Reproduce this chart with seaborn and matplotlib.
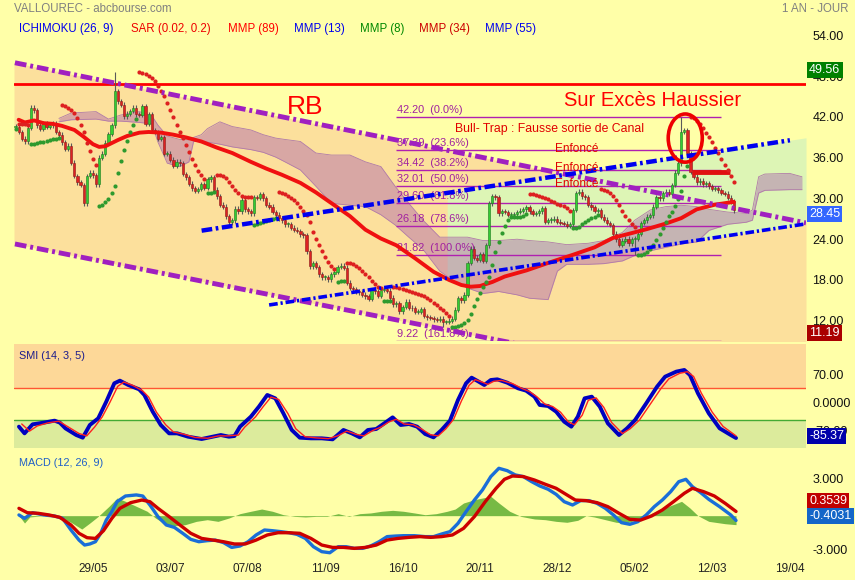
import numpy as np
import matplotlib
matplotlib.use("Agg")
import matplotlib.pyplot as plt
import seaborn as sns
from matplotlib.patches import Ellipse

# ──────────────────────────────────────────────
# DONNÉES
# ──────────────────────────────────────────────

closes = [
    40.8, 40.0, 39.0, 38.6, 40.6, 43.6, 43.2, 41.0, 40.5, 41.2,
    40.8, 41.0, 41.2, 40.0, 39.6, 38.5, 37.5, 38.0, 35.5, 33.5,
    32.6, 32.2, 29.5, 33.5, 34.0, 33.6, 32.3, 36.2, 36.8, 38.4,
    39.7, 41.0, 46.0, 44.5, 44.0, 42.3, 42.7, 43.1, 43.6, 42.6,
    42.5, 43.8, 41.2, 42.6, 40.3, 40.0, 39.0, 39.2, 36.8, 36.8,
    35.9, 35.0, 35.6, 35.4, 33.8, 33.3, 32.4, 31.7, 31.3, 31.6,
    32.3, 31.8, 33.0, 33.3, 31.5, 30.5, 29.3, 29.0, 27.6, 26.7,
    27.0, 28.7, 28.3, 30.0, 28.6, 28.3, 28.0, 30.4, 30.3, 30.8,
    30.2, 29.3, 29.0, 28.2, 27.8, 27.3, 27.0, 26.4, 26.4, 25.9,
    25.6, 25.4, 24.9, 24.8, 22.4, 20.2, 20.7, 20.1, 19.0, 18.6,
    18.6, 18.3, 19.0, 19.4, 20.1, 20.3, 20.0, 17.8, 17.0, 16.8,
    16.5, 16.4, 16.0, 15.8, 15.4, 16.7, 16.5, 15.9, 16.7, 16.8,
    16.6, 15.6, 14.6, 14.8, 13.6, 14.2, 15.0, 14.1, 14.0, 13.5,
    13.5, 13.9, 12.9, 12.7, 12.6, 12.4, 12.3, 12.5, 12.0, 12.0,
    12.2, 12.5, 13.8, 15.5, 15.2, 16.0, 20.7, 22.8, 21.5, 21.2,
    22.0, 21.0, 23.3, 29.5, 30.5, 30.4, 28.0, 28.3, 28.2, 27.8,
    27.8, 27.9, 28.2, 28.4, 28.6, 28.9, 28.3, 27.9, 28.0, 28.3,
    28.8, 26.8, 27.0, 27.1, 27.2, 26.8, 26.6, 26.5, 26.2, 26.4,
    28.5, 31.0, 31.2, 30.5, 30.4, 29.3, 28.9, 28.4, 28.5, 27.5,
    27.1, 26.6, 26.3, 25.0, 24.2, 23.4, 24.0, 24.3, 23.6, 24.2,
    24.3, 25.0, 26.6, 27.0, 27.5, 27.7, 29.0, 30.4, 30.2, 31.0,
    31.2, 30.9, 32.2, 34.0, 35.4, 40.0, 40.3, 36.9, 34.1, 33.4,
    32.6, 32.8, 32.3, 32.5, 32.0, 31.6, 31.7, 31.4, 31.0, 30.9,
    30.3, 29.8, 28.45,
]
# mèches extrêmes visibles
high_marks = {32: 48.8, 215: 42.20}
low_marks = {138: 11.19, 200: 21.82}

date_pos = [25, 50, 75, 100, 125, 150, 175, 200, 225, 250]
date_labels = ["29/05", "03/07", "07/08", "11/09", "16/10",
               "20/11", "28/12", "05/02", "12/03", "19/04"]

# MMP rouge
ma_idx = [1, 3, 6, 9, 12, 15, 19, 22, 25, 27, 29, 33, 36, 40, 43, 47, 51, 55,
          60, 65, 70, 76, 81, 86, 92, 97, 103, 108, 113, 118, 123, 129, 135,
          140, 144, 147, 150, 154, 158, 165, 172, 180, 187, 193, 199, 204,
          210, 215, 220, 226, 232]
ma_val = [41.8, 41.4, 41.7, 41.3, 41.2, 40.9, 40.3, 39.3, 38.2, 37.8, 37.9,
          38.8, 39.4, 39.9, 40.0, 39.9, 39.6, 39.2, 38.6, 37.7, 36.9, 35.6,
          34.6, 33.7, 32.5, 31.1, 29.2, 27.6, 25.6, 24.3, 23.3, 21.4, 19.4,
          18.2, 17.45, 17.2, 17.3, 17.9, 18.7, 19.6, 20.7, 21.9, 23.0, 24.4,
          25.1, 25.7, 26.5, 27.3, 28.6, 29.3, 29.7]

# nuage Ichimoku
cloud_idx = [14, 18, 26, 30, 34, 40, 44, 46, 49, 53, 56, 57.5, 60, 62, 66, 70,
             76, 80, 84, 87, 92, 97, 102, 108, 113, 118, 122.6, 127, 131.6,
             137, 142, 146, 151, 156, 162, 166, 172, 175, 178, 185, 190, 196,
             200, 205, 210, 215, 220, 224, 230, 236, 238, 240, 242, 250, 254]
cloud_top = [42.0, 42.8, 43.0, 41.9, 42.5, 43.0, 42.4, 41.0, 39.4, 38.9, 38.8,
             39.2, 39.6, 40.5, 41.5, 40.8, 40.3, 39.6, 39.1, 38.9, 38.6, 36.9,
             36.6, 36.6, 35.6, 34.9, 32.0, 29.5, 27.0, 24.5, 24.5, 24.5, 24.0,
             24.0, 24.2, 24.0, 23.8, 23.6, 23.4, 23.6, 24.0, 25.2, 27.0, 28.5,
             29.0, 29.2, 29.0, 28.6, 28.2, 28.0, 28.5, 33.4, 33.8, 33.9, 33.4]
cloud_bot = [41.5, 41.8, 41.9, 41.6, 41.6, 41.4, 41.2, 38.5, 35.4, 34.9, 35.6,
             38.6, 38.6, 38.5, 38.2, 37.8, 37.4, 37.0, 36.3, 35.6, 34.4, 32.0,
             29.5, 29.2, 29.0, 27.8, 26.3, 24.5, 22.7, 19.5, 17.9, 17.0, 16.2,
             16.5, 16.0, 15.5, 15.3, 19.5, 20.5, 20.5, 20.6, 21.0, 21.8, 22.5,
             23.0, 23.5, 23.8, 25.5, 26.4, 26.7, 27.0, 31.0, 31.4, 31.5, 31.5]

# Fibonacci
fib_levels = [42.20, 37.39, 34.42, 32.01, 29.60, 26.18, 21.82, 9.22]
fib_pcts = ["0.0%", "23.6%", "38.2%", "50.0%", "61.8%", "78.6%", "100.0%", "161.8%"]

# SMI (14, 3, 5)
smi_idx = [1.1, 2.9, 5.5, 9.1, 12.6, 14.3, 16.1, 19.6, 21.7, 24.0, 26.7, 29.3,
           31.9, 33.7, 36.4, 39.9, 41.6, 44.3, 46.9, 49.6, 52.2, 55.7, 60.1,
           63.7, 66.3, 68.9, 70.7, 72.5, 76.0, 78.6, 81.3, 83.9, 86.5, 89.2,
           91.8, 95.4, 98.9, 102.4, 105.9, 108.6, 111.2, 113.8, 116.5, 119.1,
           121.8, 124.4, 127.1, 129.7, 132.3, 135.0, 137.6, 140.3, 142.9,
           145.5, 147.3, 149.6, 151.4, 153.5, 155.6, 158.8, 162.3, 164.9,
           167.6, 169.3, 172.0, 174.6, 177.2, 179.5, 181.6, 183.8, 186.1,
           188.7, 191.3, 194.9, 197.5, 200.1, 203.7, 207.2, 209.8, 213.4,
           216.0, 217.8, 220.4, 223.9, 227.4, 231.0, 232.7]
smi_val = [-56.7, -73.6, -50.8, -46.6, -41.6, -46.6, -60.9, -77.8, -84.5, -52.5,
           -35.7, 6.4, 52.7, 59.4, 48.5, 37.6, 23.3, -18.8, -52.5, -73.6, -73.6,
           -82.0, -87.9, -82.0, -77.8, -82.0, -80.3, -56.7, -31.5, -6.2, 23.3,
           14.8, -23.0, -65.1, -84.5, -86.2, -86.2, -88.7, -65.1, -73.6, -83.7,
           -65.1, -62.6, -48.3, -33.2, -52.5, -50.0, -56.7, -75.2, -83.7, -65.1,
           -41.6, 10.6, 52.7, 67.0, 56.9, 48.5, 61.1, 62.8, 54.4, 40.1, 34.2,
           19.0, -2.0, -4.5, -18.8, -44.1, -56.7, -31.5, 14.8, 19.0, -6.2, -48.3,
           -77.8, -60.9, -39.9, 2.2, 44.3, 69.5, 82.2, 86.4, 73.8, 27.5, -23.0,
           -60.9, -77.8, -85.37]
sig_idx = [2.0, 4.5, 7.0, 10.5, 14.0, 16.5, 20.5, 23.0, 25.5, 28.0, 30.5, 33.0,
           35.0, 38.0, 41.0, 43.0, 45.5, 48.5, 51.0, 54.5, 58.0, 62.0, 65.5,
           68.5, 72.0, 74.0, 77.5, 80.0, 82.5, 85.0, 88.0, 90.5, 93.5, 97.0,
           101.0, 104.0, 107.0, 110.0, 112.5, 115.5, 118.0, 120.5, 123.0,
           125.5, 128.5, 131.0, 134.0, 136.5, 139.0, 141.5, 144.0, 146.5,
           148.5, 151.0, 152.5, 154.5, 157.0, 160.5, 163.5, 166.0, 168.5,
           171.0, 173.5, 176.0, 178.5, 180.5, 183.0, 185.0, 187.5, 190.0,
           192.5, 196.0, 198.5, 201.5, 205.0, 208.5, 211.0, 214.5, 217.0,
           219.0, 221.5, 225.0, 228.5, 232.7]
sig_val = [-50, -68, -55, -47, -43, -55, -74, -80, -58, -32, 5, 45, 56, 47, 34,
           18, -20, -52, -70, -76, -84, -86, -80, -80, -78, -58, -32, -6, 18, 12,
           -24, -62, -82, -85, -87, -80, -68, -76, -80, -66, -58, -45, -38, -50,
           -52, -62, -77, -80, -62, -38, 8, 48, 62, 55, 50, 58, 60, 52, 40, 32,
           18, 0, -6, -20, -44, -52, -28, 10, 16, -8, -46, -74, -62, -40, 0, 40,
           64, 78, 82, 70, 28, -20, -56, -80]

# MACD (12, 26, 9)
macd_idx = [1.1, 2.9, 5.5, 9.1, 12.6, 15.2, 17.9, 20.5, 22.3, 24.0, 25.8, 27.5,
            29.3, 31.1, 32.8, 35.5, 39.0, 41.1, 43.4, 46.0, 48.7, 51.3, 54.0,
            56.6, 59.2, 61.9, 64.5, 67.2, 69.8, 72.5, 75.1, 77.7, 80.4, 83.0,
            85.7, 88.3, 90.9, 93.6, 96.2, 98.9, 101.5, 104.2, 106.8, 109.4,
            112.1, 114.7, 117.4, 120.0, 122.7, 125.3, 128.8, 132.3, 135.0,
            137.6, 140.3, 142.9, 145.5, 148.2, 150.8, 153.5, 156.1, 158.8,
            161.4, 164.0, 166.7, 169.3, 172.0, 174.6, 177.2, 179.9, 182.5,
            185.2, 187.8, 190.5, 193.1, 195.7, 198.4, 201.0, 203.7, 206.3,
            208.9, 211.6, 214.2, 216.5, 218.6, 221.3, 223.9, 227.4, 231.0,
            232.7]
macd_val = [0.06, -0.23, 0.25, 0.06, -0.03, -0.23, -1.21, -2.06, -2.48, -2.39,
            -2.20, -1.49, -0.37, 0.34, 1.18, 1.66, 1.75, 1.66, 0.90, -0.08,
            -0.79, -0.99, -1.49, -2.00, -2.20, -2.11, -2.06, -2.28, -2.68,
            -2.56, -2.20, -1.63, -1.21, -1.27, -1.35, -1.44, -1.58, -1.92,
            -2.62, -3.04, -3.13, -2.62, -2.62, -2.76, -2.76, -2.56, -2.20,
            -1.77, -1.72, -1.69, -1.69, -1.77, -1.77, -1.55, -1.35, -0.65,
            0.34, 1.32, 2.17, 3.30, 4.00, 3.80, 3.44, 3.30, 2.87, 2.51, 2.23,
            1.80, 1.18, 0.90, 1.27, 1.27, 1.04, 0.62, 0.06, -0.59, -0.73,
            -0.51, 0.06, 0.76, 1.32, 2.03, 2.87, 3.07, 2.45, 1.94, 1.38, 0.76,
            0.06, -0.4031]
msig_idx = [1.1, 3.8, 7.3, 10.8, 14.3, 17.9, 20.5, 23.1, 25.8, 28.4, 31.1, 33.7,
            37.2, 40.8, 43.4, 46.0, 49.6, 53.1, 56.6, 60.1, 63.7, 67.2, 70.7,
            74.2, 77.7, 81.3, 84.8, 88.3, 91.8, 95.4, 98.9, 102.4, 105.9,
            109.4, 113.0, 116.5, 120.0, 123.5, 127.1, 130.6, 134.1, 137.6,
            141.1, 144.7, 148.2, 151.7, 155.2, 157.9, 160.5, 164.0, 167.6,
            171.1, 174.6, 178.1, 180.8, 184.3, 187.8, 191.3, 194.9, 198.4,
            201.9, 205.4, 208.9, 212.5, 216.0, 218.6, 222.2, 225.7, 229.2,
            232.7]
msig_val = [0.62, 0.25, 0.20, 0.06, -0.14, -0.79, -1.49, -1.86, -1.92, -1.27,
            -0.23, 0.62, 1.10, 1.32, 1.18, 0.62, -0.08, -0.79, -1.49, -1.92,
            -2.06, -2.20, -2.39, -2.39, -2.06, -1.63, -1.44, -1.44, -1.49,
            -1.92, -2.48, -2.68, -2.68, -2.76, -2.68, -2.48, -2.06, -1.92,
            -1.83, -1.77, -1.83, -1.77, -1.63, -1.07, -0.08, 1.18, 2.31, 3.07,
            3.35, 3.30, 3.01, 2.65, 2.31, 1.75, 1.32, 1.27, 1.10, 0.76, 0.20,
            -0.31, -0.37, -0.03, 0.48, 1.18, 1.89, 2.31, 2.03, 1.66, 1.04,
            0.3539]
hist_idx = [1.1, 2.9, 4.6, 9.1, 14.3, 17.9, 21.4, 24.0, 26.7, 30.2, 32.8, 35.5,
            39.0, 42.5, 45.2, 47.8, 51.3, 54.8, 58.4, 61.9, 65.4, 68.9, 72.5,
            76.0, 79.5, 83.0, 86.5, 90.1, 93.6, 97.1, 100.6, 104.2, 107.7,
            111.2, 114.7, 118.2, 121.8, 125.3, 128.8, 132.3, 135.9, 139.4,
            142.0, 144.7, 148.2, 150.8, 153.5, 156.1, 159.6, 163.2, 167.6,
            171.1, 174.6, 178.1, 181.6, 184.3, 186.9, 190.5, 194.0, 197.5,
            201.0, 204.5, 208.1, 211.6, 215.1, 217.8, 220.4, 223.9, 229.2,
            232.7]
hist_val = [0.0, -0.62, -0.11, 0.0, -0.11, -0.56, -1.13, -0.62, -0.06, 0.79,
            1.49, 1.21, 0.79, 0.37, -0.20, -0.62, -0.85, -0.76, -0.48, -0.34,
            -0.48, -0.20, 0.17, 0.37, 0.56, 0.37, 0.08, -0.06, -0.11, -0.06,
            -0.06, 0.17, -0.06, 0.17, 0.23, 0.37, 0.45, 0.37, 0.23, 0.08, 0.17,
            0.37, 0.56, 1.07, 1.35, 1.49, 1.63, 1.07, 0.37, -0.06, -0.28, -0.34,
            -0.48, -0.56, -0.39, 0.0, -0.11, -0.34, -0.56, -0.62, -0.28, 0.08,
            0.51, 0.85, 1.21, 0.65, 0.0, -0.48, -0.68, -0.76]

# lignes de tendance tracées à la main (extrémités)
purple_top = [(-0.2, 50.2), (255.3, 26.6)]
purple_bot = [(-0.2, 23.5), (255.3, 0.3)]
blue_top = [(60.1, 25.46), (250.1, 38.78)]
blue_bot = [(81.9, 14.51), (255.0, 26.44)]
resist = 47.1

# ──────────────────────────────────────────────
# STYLE
# ──────────────────────────────────────────────
BG = "#FFFFA8"
ORANGE = "#FCE09C"
GREEN_ZONE = "#DDF5B5"
CANDLE_UP, CANDLE_DN = "#33CC33", "#DD2222"

sns.set_theme(style="white")
plt.rcParams["font.family"] = ["Liberation Sans", "DejaVu Sans"]
plt.rcParams["axes.facecolor"] = BG

W, H = 855, 580
XL, XR = 14, 806
XMIN, XMAX = -0.5, 255.3


def panel(top, bottom):
    return fig.add_axes([XL / W, 1 - bottom / H, (XR - XL) / W, (bottom - top) / H])


def line_y(p, x):
    (x0, y0), (x1, y1) = p
    return y0 + (y1 - y0) * (np.asarray(x) - x0) / (x1 - x0)


def parabolic_sar(high, low, step=0.02, max_step=0.2):
    n = len(high)
    sar = np.empty(n)
    up = np.zeros(n, dtype=bool)
    trend_up, ep, af = True, high[0], step
    sar[0], up[0] = low[0], True
    for i in range(1, n):
        s = sar[i - 1] + af * (ep - sar[i - 1])
        if trend_up:
            s = min(s, low[i - 1], low[max(i - 2, 0)])
            if low[i] < s:
                trend_up, s, ep, af = False, ep, low[i], step
            elif high[i] > ep:
                ep, af = high[i], min(af + step, max_step)
        else:
            s = max(s, high[i - 1], high[max(i - 2, 0)])
            if high[i] > s:
                trend_up, s, ep, af = True, ep, high[i], step
            elif low[i] < ep:
                ep, af = low[i], min(af + step, max_step)
        sar[i], up[i] = s, trend_up
    return sar, up


fig = plt.figure(figsize=(W / 100, H / 100), dpi=100, facecolor=BG)

# ──────────────────────────────────────────────
# PANNEAU PRIX
# ──────────────────────────────────────────────
ax = panel(20, 341)
ax.set_xlim(XMIN, XMAX)
ax.set_ylim(9.2, 56.5)

xs = np.array([XMIN, XMAX])
ax.fill_between(xs, line_y(purple_bot, xs), line_y(purple_top, xs),
                color=ORANGE, lw=0, zorder=1)
xg = np.array([139.4, XMAX])
ax.fill_between(xg, line_y(blue_bot, xg), line_y(blue_top, xg),
                color=GREEN_ZONE, lw=0, zorder=1.5)

ax.fill_between(cloud_idx, cloud_bot, cloud_top, color="#A253B2", alpha=0.40,
                lw=0, zorder=2)
ax.plot(cloud_idx, cloud_top, color="#B07AA8", lw=0.6, zorder=2.1)
ax.plot(cloud_idx, cloud_bot, color="#B07AA8", lw=0.6, zorder=2.1)

# Fibonacci
for lvl, pct in zip(fib_levels, fib_pcts):
    ax.hlines(lvl, 122.9, 227.8, color="#B020B0", lw=1, zorder=3)
    ax.text(123.2, lvl + 0.3, f"{lvl:.2f}  ({pct})", color="#A020A0",
            fontsize=7.9, va="bottom", ha="left", zorder=3, clip_on=True)

ax.axhline(resist, color="#FF0000", lw=2, zorder=3)

# chandeliers
c = np.array(closes)
x = np.arange(len(c))
o = np.r_[c[0], c[:-1]]
hi = np.maximum(o, c) + 0.35
lo = np.minimum(o, c) - 0.35
for k, v in high_marks.items():
    hi[k] = v
for k, v in low_marks.items():
    lo[k] = v
up = c >= o
ax.vlines(x, lo, hi, color="#5A5A5A", lw=0.8, zorder=5)
body_lo = np.minimum(o, c)
body_h = np.maximum(np.abs(c - o), 0.12)
ax.bar(x, body_h, bottom=body_lo, width=0.72,
       color=np.where(up, CANDLE_UP, CANDLE_DN),
       edgecolor=np.where(up, "#1E7A1E", "#8B1A1A"), lw=0.4, zorder=6)

sns.lineplot(x=ma_idx, y=ma_val, ax=ax, color="#F01010", lw=2.8, zorder=7)

sar, sar_up = parabolic_sar(hi, lo)
ax.scatter(x[sar_up], sar[sar_up], s=9, color="#2E9A2E", lw=0, zorder=8)
ax.scatter(x[~sar_up], sar[~sar_up], s=9, color="#DD2020", lw=0, zorder=8)

# lignes de tendance
dashdot = (0, (2.4, 0.8, 0.6, 0.8))
for p, col, lw in [(purple_top, "#A020C0", 3.5), (purple_bot, "#A020C0", 3.5),
                   (blue_top, "#0000F0", 3.2), (blue_bot, "#0000F0", 2.6)]:
    (x0, _), (x1, _) = p
    ax.plot([x0, x1], line_y(p, [x0, x1]), color=col, lw=lw,
            linestyle=dashdot, zorder=9)

ax.add_patch(Ellipse((216.3, 39.1), 11, 7.1, fill=False, ec="#EE0000",
                     lw=2.6, zorder=10))
ax.hlines(34.15, 218.4, 230.8, color="#E01010", lw=3.5, zorder=7)

ax.text(93.5, 43.7, "RB", color="#FF0000", fontsize=19, ha="center", va="center", zorder=11)
ax.text(205.9, 44.7, "Sur Excès Haussier", color="#FF0000", fontsize=14.5,
        ha="center", va="center", zorder=11)
ax.text(172.6, 40.45, "Bull- Trap : Fausse sortie de Canal", color="#E00000",
        fontsize=8.8, ha="center", va="center", zorder=11)
for yy in [37.45, 34.65, 32.3]:
    ax.text(181.3, yy, "Enfoncé", color="#E00000", fontsize=8.5,
            ha="center", va="center", zorder=11)

ytr = ax.get_yaxis_transform()
for t in [54, 48, 42, 36, 30, 24, 18, 12]:
    ax.text(1.008, t, f"{t:.2f}", transform=ytr, fontsize=9, color="#111111",
            va="center", ha="left", clip_on=False)

# ──────────────────────────────────────────────
# PANNEAU SMI
# ──────────────────────────────────────────────
ax2 = panel(344, 448)
ax2.set_xlim(XMIN, XMAX)
ax2.set_ylim(-110.6, 152)
ax2.axhspan(40, 152, color="#FDD898", lw=0, zorder=0)
ax2.axhspan(-110.6, -40, color="#DCEB9C", lw=0, zorder=0)
ax2.axhline(40, color="#FF5533", lw=1, zorder=1)
ax2.axhline(-40, color="#44AA33", lw=1, zorder=1)
sns.lineplot(x=smi_idx, y=smi_val, ax=ax2, color="#0000C0", lw=2.8, zorder=3)
sns.lineplot(x=sig_idx, y=sig_val, ax=ax2, color="#FF2020", lw=1, zorder=4)
ax2.text(0.006, 0.93, "SMI (14, 3, 5)", transform=ax2.transAxes, color="#1A1A8C",
         fontsize=7.8, va="top")
ytr2 = ax2.get_yaxis_transform()
for t, lab in [(70, "70.00"), (0, "0.0000"), (-70, "-70.00")]:
    ax2.text(1.008, t, lab, transform=ytr2, fontsize=9, color="#111111",
             va="center", ha="left", clip_on=False)

# ──────────────────────────────────────────────
# PANNEAU MACD
# ──────────────────────────────────────────────
ax3 = panel(451, 557)
ax3.set_xlim(XMIN, XMAX)
ax3.set_ylim(-3.49, 5.46)
ax3.fill_between(hist_idx, 0, hist_val, color="#5FAE33", alpha=0.85, lw=0, zorder=1)
sns.lineplot(x=macd_idx, y=macd_val, ax=ax3, color="#1A6ED8", lw=2.4, zorder=3)
sns.lineplot(x=msig_idx, y=msig_val, ax=ax3, color="#CC0000", lw=2.4, zorder=4)
ax3.text(0.006, 0.93, "MACD (12, 26, 9)", transform=ax3.transAxes, color="#2060C8",
         fontsize=7.8, va="top")
ytr3 = ax3.get_yaxis_transform()
for t, lab in [(3, "3.000"), (-3, "-3.000")]:
    ax3.text(1.008, t, lab, transform=ytr3, fontsize=9, color="#111111",
             va="center", ha="left", clip_on=False)

for a in (ax, ax2, ax3):
    a.set_facecolor(BG)
    for s in a.spines.values():
        s.set_visible(False)
    a.set_yticks([])
    a.set_xlabel("")
    a.set_ylabel("")
    a.tick_params(length=0)
    if a.get_legend():
        a.get_legend().remove()
ax.set_xticks([])
ax2.set_xticks([])
ax3.set_xticks(date_pos)
ax3.set_xticklabels(date_labels, fontsize=8.5, color="#222222")
ax3.tick_params(axis="x", pad=4)


# étiquettes de valeur à droite (elles recouvrent en partie les graduations, comme l'original)
def value_box(y_px, text, color):
    fig.text(809 / W, 1 - y_px / H, text, color="white", fontsize=9,
             va="center", ha="left", zorder=20,
             bbox=dict(boxstyle="square,pad=0.18", fc=color, ec="none"))


value_box(70, "49.56", "#008000")
value_box(214, "28.45", "#3366FF")
value_box(333, "11.19", "#AA0000")
value_box(436, "-85.37", "#0000AA")
value_box(501, "0.3539", "#C00000")
value_box(516, "-0.4031", "#1466C8")

# en-têtes
fig.text(14 / W, 1 - 9 / H, "VALLOUREC - abcbourse.com", color="#808080",
         fontsize=8.3, va="center")
fig.text(848 / W, 1 - 9 / H, "1 AN - JOUR", color="#808080", fontsize=8.3,
         va="center", ha="right")
legend_items = [(19, "ICHIMOKU (26, 9)", "#0000EE"), (131, "SAR (0.02, 0.2)", "#EE0000"),
                (228, "MMP (89)", "#FF0000"), (294, "MMP (13)", "#0000EE"),
                (360, "MMP (8)", "#008800"), (419, "MMP (34)", "#CC0000"),
                (485, "MMP (55)", "#0000EE")]
for xp, lab, col in legend_items:
    fig.text(xp / W, 1 - 29 / H, lab, color=col, fontsize=8.3, va="center")

fig.savefig("out.png", dpi=100, facecolor=BG)
